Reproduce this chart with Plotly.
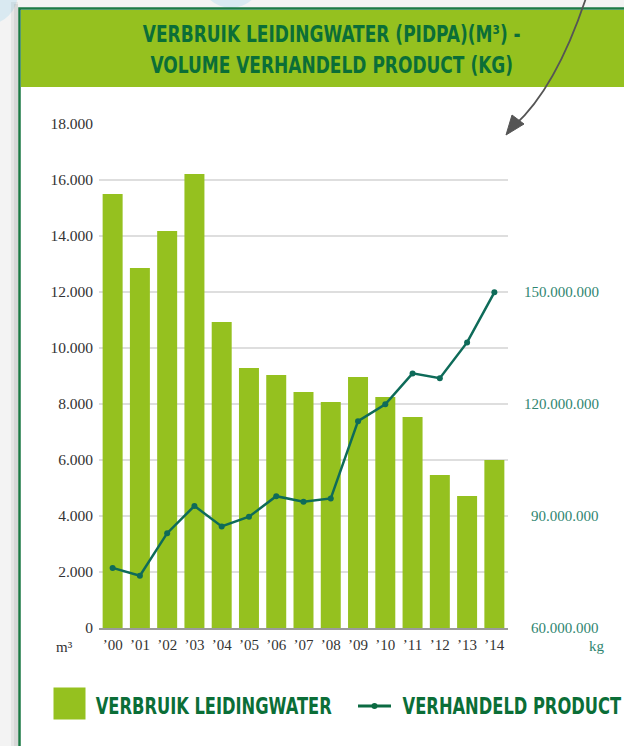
import plotly.graph_objects as go

# ---------------- data ----------------
years = ["’00", "’01", "’02", "’03", "’04", "’05", "’06", "’07",
         "’08", "’09", "’10", "’11", "’12", "’13", "’14"]
water_m3 = [15500, 12860, 14180, 16210, 10930, 9290, 9040, 8430,
            8070, 8960, 8250, 7540, 5460, 4710, 6000]
product_kg = [76.1e6, 74.0e6, 85.4e6, 92.7e6, 87.2e6, 89.8e6, 95.3e6, 93.8e6,
              94.7e6, 115.4e6, 119.9e6, 128.2e6, 126.9e6, 136.5e6, 149.9e6]
left_ticks = [0, 2000, 4000, 6000, 8000, 10000, 12000, 14000, 16000, 18000]
right_ticks = [60e6, 90e6, 120e6, 150e6]
right_tick_labels = ["60.000.000", "90.000.000", "120.000.000", "150.000.000"]

title_text = "VERBRUIK LEIDINGWATER (PIDPA)(M³) -<br>VOLUME VERHANDELD PRODUCT (KG)"
legend_names = ["VERBRUIK LEIDINGWATER", "VERHANDELD PRODUCT"]

# ---------------- style ----------------
W, H = 624, 746
L, R, T, B = 99, 116, 124, 118
PW, PH = W - L - R, H - T - B

BAR_GREEN = "#95c11f"
DARK_GREEN = "#0b6e37"
LINE_TEAL = "#0e6b59"
RIGHT_TEAL = "#2f8570"
SERIF = "Liberation Serif, DejaVu Serif, serif"
COND = "DejaVu Sans Condensed, Liberation Sans Narrow, sans-serif"


def px(x):
    return (x - L) / PW


def py(y):
    return (H - B - y) / PH


fig = go.Figure()
fig.add_trace(go.Bar(x=years, y=water_m3, marker=dict(color=BAR_GREEN, line=dict(width=0)),
                     name=legend_names[0], showlegend=False, yaxis="y"))
fig.add_trace(go.Scatter(x=years, y=product_kg, mode="lines+markers", yaxis="y2",
                         line=dict(color=LINE_TEAL, width=2.5),
                         marker=dict(color=LINE_TEAL, size=6),
                         name=legend_names[1], showlegend=False))

shapes = []
# outside background decorations
shapes.append(dict(type="circle", xref="paper", yref="paper", layer="below",
                   x0=px(-45), x1=px(18), y0=py(-40), y1=py(25),
                   fillcolor="#d9e9f1", line=dict(width=0)))
shapes.append(dict(type="circle", xref="paper", yref="paper", layer="below",
                   x0=px(200), x1=px(262), y0=py(-55), y1=py(8),
                   fillcolor="#d9e9f1", line=dict(width=0)))
# shadow
shapes.append(dict(type="rect", xref="paper", yref="paper", layer="below",
                   x0=px(11), x1=px(18), y0=py(H + 5), y1=py(2),
                   fillcolor="rgba(0,0,0,0.05)", line=dict(width=0)))
shapes.append(dict(type="rect", xref="paper", yref="paper", layer="below",
                   x0=px(14), x1=px(18), y0=py(H + 5), y1=py(4),
                   fillcolor="rgba(0,0,0,0.06)", line=dict(width=0)))
# card
shapes.append(dict(type="rect", xref="paper", yref="paper", layer="below",
                   x0=px(19.5), x1=px(W + 10), y0=py(H + 10), y1=py(8.5),
                   fillcolor="white", line=dict(color="#1d7a45", width=2.5)))
# banner
shapes.append(dict(type="rect", xref="paper", yref="paper", layer="below",
                   x0=px(21), x1=px(W + 10), y0=py(87), y1=py(10),
                   fillcolor=BAR_GREEN, line=dict(width=0)))
# arrow (curve + head)
shapes.append(dict(type="path", xref="paper", yref="paper", layer="above",
                   path=f"M {px(586)},{py(-2)} Q {px(556)},{py(88)} {px(514)},{py(126)}",
                   line=dict(color="#555555", width=1.8)))
shapes.append(dict(type="path", xref="paper", yref="paper", layer="above",
                   path=(f"M {px(506)},{py(135)} L {px(524)},{py(124)} "
                         f"L {px(512)},{py(115)} Z"),
                   fillcolor="#555555", line=dict(color="#555555", width=1)))
# custom legend symbols
shapes.append(dict(type="rect", xref="paper", yref="paper",
                   x0=px(53.5), x1=px(85.5), y0=py(719.5), y1=py(687.5),
                   fillcolor=BAR_GREEN, line=dict(width=0)))
shapes.append(dict(type="line", xref="paper", yref="paper",
                   x0=px(358), x1=px(391), y0=py(706), y1=py(706),
                   line=dict(color="#0b6b42", width=3)))
shapes.append(dict(type="circle", xref="paper", yref="paper",
                   x0=px(371.5), x1=px(377.5), y0=py(709), y1=py(703),
                   fillcolor="#0b6b42", line=dict(width=0)))

annotations = []
annotations.append(dict(text=title_text, xref="paper", yref="paper",
                        x=px(332), y=py(49), xanchor="center", yanchor="middle",
                        showarrow=False, align="center",
                        font=dict(family=COND, size=23.5, color=DARK_GREEN, weight="bold")))
annotations.append(dict(text=legend_names[0], xref="paper", yref="paper",
                        x=px(214), y=py(706), xanchor="center", yanchor="middle", showarrow=False,
                        font=dict(family=COND, size=22.5, color=DARK_GREEN, weight="bold")))
annotations.append(dict(text=legend_names[1], xref="paper", yref="paper",
                        x=px(512), y=py(706), xanchor="center", yanchor="middle", showarrow=False,
                        font=dict(family=COND, size=22.5, color=DARK_GREEN, weight="bold")))
for v, lab in zip(right_ticks, right_tick_labels):
    annotations.append(dict(text=lab, xref="paper", yref="y2", x=px(601), y=v,
                            xanchor="right", yanchor="middle", showarrow=False,
                            font=dict(family=SERIF, size=15, color=RIGHT_TEAL)))
annotations.append(dict(text="kg", xref="paper", yref="paper", x=px(597), y=py(646),
                        xanchor="center", yanchor="middle", showarrow=False,
                        font=dict(family=SERIF, size=15, color=RIGHT_TEAL)))
annotations.append(dict(text="m³", xref="paper", yref="paper", x=px(64), y=py(647),
                        xanchor="center", yanchor="middle", showarrow=False,
                        font=dict(family=SERIF, size=15, color="#333333")))

fig.update_layout(
    width=W, height=H, autosize=False,
    margin=dict(l=L, r=R, t=T, b=B, pad=0),
    paper_bgcolor="#f3f3f3", plot_bgcolor="rgba(0,0,0,0)",
    separators=",.",
    bargap=0.267,
    showlegend=False,
    shapes=shapes, annotations=annotations,
    xaxis=dict(type="category", range=[-0.5, 14.5], showgrid=False, zeroline=False,
               showline=True, linecolor="#9a9a9a", linewidth=2, ticks="",
               ticklabelstandoff=2,
               tickfont=dict(family=SERIF, size=15, color="#333333"), fixedrange=True),
    yaxis=dict(range=[0, 18000], tickvals=left_ticks, tickformat=",d", showgrid=True,
               gridcolor="#dedede", gridwidth=1.5, zeroline=False, ticks="",
               ticklabelstandoff=5,
               tickfont=dict(family=SERIF, size=15.5, color="#333333"), fixedrange=True),
    yaxis2=dict(range=[60e6, 195e6], overlaying="y", side="right", showgrid=False,
                zeroline=False, showticklabels=False, ticks="", showline=False,
                fixedrange=True),
)

post = """
document.body.style.margin = '0';
document.body.style.padding = '0';
var s = document.createElement('style');
s.textContent = '.annotation-text[style*="Condensed"]{transform-box:fill-box;' +
                'transform-origin:center;transform:scaleX(0.805);}';
document.head.appendChild(s);
"""

fig.write_html("out.html", post_script=post, config={"displayModeBar": False})
